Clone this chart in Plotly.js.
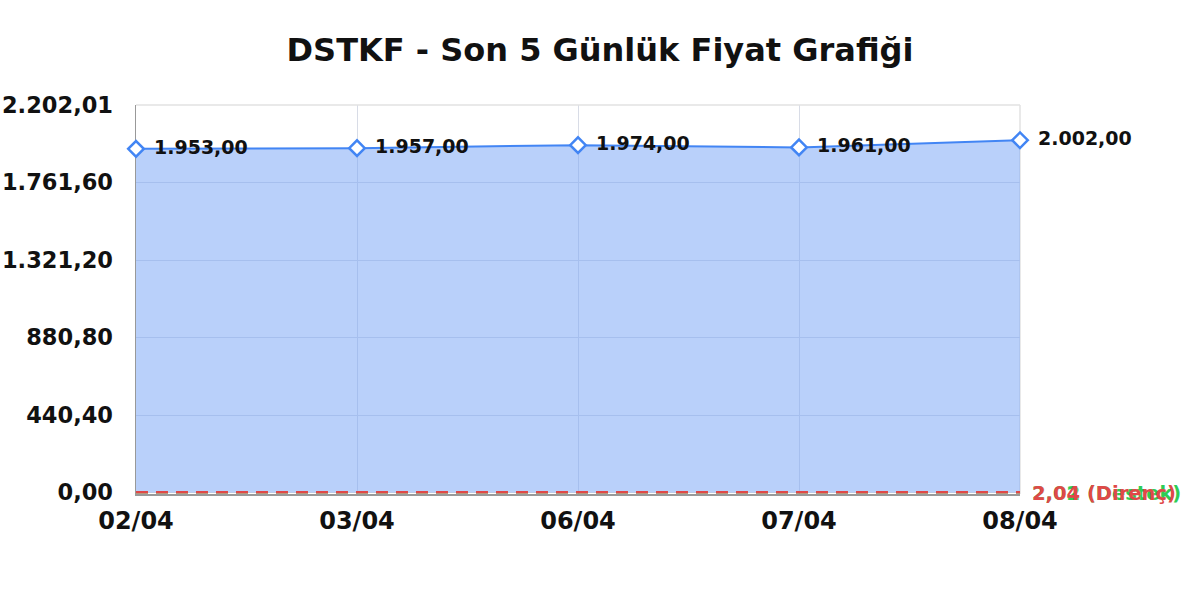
<!DOCTYPE html>
<html>
<head>
<meta charset="utf-8">
<script src="https://cdn.plot.ly/plotly-3.0.1.min.js"></script>
<style>
  html, body { margin: 0; padding: 0; background: #fff; }
  #chart { width: 1200px; height: 600px; }
</style>
</head>
<body>
<div id="chart"></div>
<script>
// son 5 gunluk kapanis
const dates = ['02/04', '03/04', '06/04', '07/04', '08/04'];
const prices = [1953, 1957, 1974, 1961, 2002];
const priceLabels = ['1.953,00', '1.957,00', '1.974,00', '1.961,00', '2.002,00'];

// destek / direnc seviyeleri
const supportLevel = 2.02;
const resistanceLevel = 2.04;
const supportLabel = '2,02 (Destek)';
const resistanceLabel = '2,04 (Direnç)';

const yTicks = [0, 440.40, 880.80, 1321.20, 1761.60, 2202.01];
const yTickText = ['0,00', '440,40', '880,80', '1.321,20', '1.761,60', '2.202,01'];

const boldFont = 'DejaVu Sans, sans-serif';

const priceTrace = {
    type: 'scatter',
    mode: 'lines+markers+text',
    x: dates,
    y: prices,
    // en space in front pushes the label a bit off the marker
    text: priceLabels.map(t => '\u2002' + t),
    textposition: 'middle right',
    textfont: { family: boldFont, size: 19, color: '#111', weight: 'bold' },
    fill: 'tozeroy',
    fillcolor: 'rgba(120,165,245,0.52)',
    line: { color: '#4285f4', width: 2 },
    marker: { symbol: 'diamond', size: 12, color: '#fff', line: { color: '#4285f4', width: 2.5 } },
    cliponaxis: false,
    hoverinfo: 'skip'
};

const supportTrace = {
    type: 'scatter',
    mode: 'lines',
    x: dates,
    y: dates.map(() => supportLevel),
    line: { color: '#2ecc55', width: 2.5, dash: '12px,8px' },
    hoverinfo: 'skip'
};

const resistanceTrace = {
    type: 'scatter',
    mode: 'lines',
    x: dates,
    y: dates.map(() => resistanceLevel),
    line: { color: '#e04848', width: 2.5, dash: '12px,8px' },
    hoverinfo: 'skip'
};

const layout = {
    width: 1200,
    height: 600,
    margin: { l: 136, r: 180, t: 105, b: 106 },
    paper_bgcolor: '#fff',
    plot_bgcolor: '#fff',
    showlegend: false,
    title: {
        text: 'DSTKF - Son 5 Günlük Fiyat Grafiği',
        font: { family: boldFont, size: 32, color: '#111', weight: 'bold' },
        x: 0.5,
        y: 0.917,
        yanchor: 'middle'
    },
    xaxis: {
        type: 'category',
        range: [0, dates.length - 1],
        showgrid: true,
        gridcolor: '#d8dce6',
        showline: true,
        linecolor: '#999',
        linewidth: 1.5,
        layer: 'below traces',
        ticks: '',
        ticklabelstandoff: 5,
        tickfont: { family: boldFont, size: 24, color: '#111', weight: 'bold' },
        zeroline: false
    },
    yaxis: {
        // a hair below zero so the level lines are not cut by the plot clip
        range: [-8, 2202.01],
        tickvals: yTicks,
        ticktext: yTickText,
        showgrid: true,
        gridcolor: '#d8dce6',
        showline: true,
        linecolor: '#999',
        linewidth: 1.5,
        layer: 'below traces',
        ticks: '',
        ticklabelstandoff: 17,
        tickfont: { family: boldFont, size: 22.5, color: '#111', weight: 'bold' },
        zeroline: false
    },
    shapes: [
        { type: 'line', xref: 'paper', yref: 'paper', x0: 0, x1: 1, y0: 1, y1: 1,
          line: { color: '#e2e2e2', width: 1.5 } },
        { type: 'line', xref: 'paper', yref: 'paper', x0: 1, x1: 1, y0: 0, y1: 1,
          line: { color: '#e2e2e2', width: 1.5 }, layer: 'below' }
    ],
    annotations: [
        { xref: 'paper', yref: 'y', x: 1.011, y: supportLevel, xanchor: 'left', yanchor: 'middle',
          yshift: -1, text: supportLabel, showarrow: false,
          font: { family: boldFont, size: 19.5, color: '#2ecc55', weight: 'bold' } },
        { xref: 'paper', yref: 'y', x: 1.011, y: resistanceLevel, xanchor: 'left', yanchor: 'middle',
          yshift: -1, text: resistanceLabel, showarrow: false,
          font: { family: boldFont, size: 19.5, color: '#e04848', weight: 'bold' } }
    ]
};

// dashed levels after the filled price trace so they sit on top of the fill
Plotly.newPlot('chart', [priceTrace, supportTrace, resistanceTrace], layout, { displayModeBar: false, staticPlot: true });
</script>
</body>
</html>
